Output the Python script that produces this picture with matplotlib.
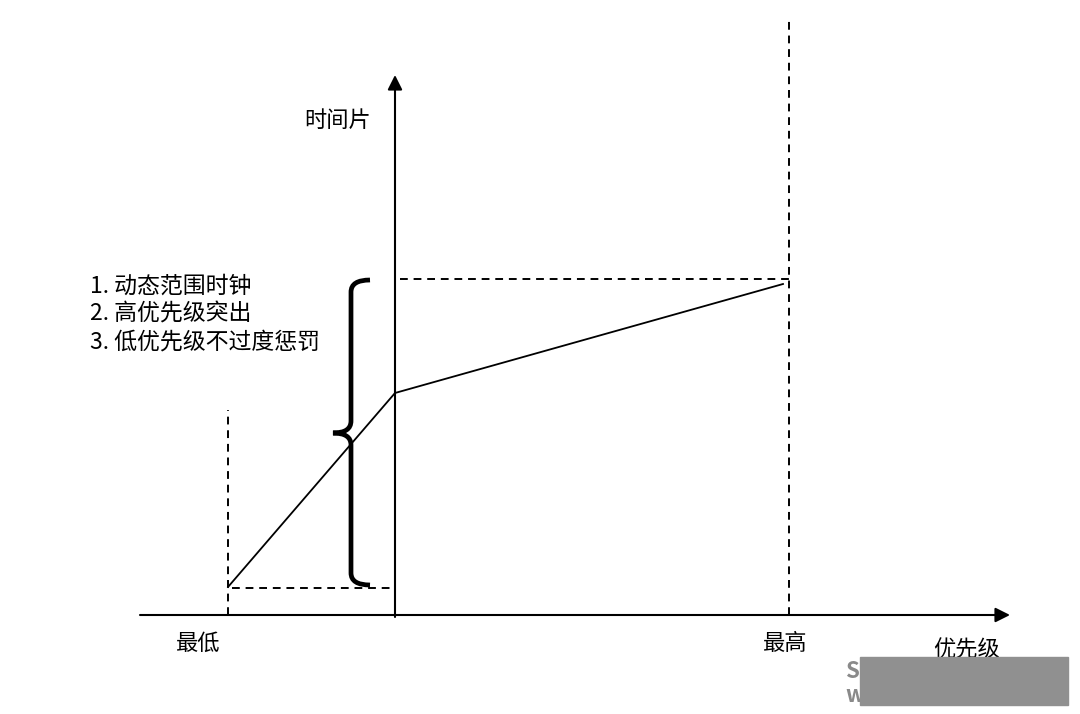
import matplotlib.pyplot as plt
from matplotlib.path import Path
from matplotlib.patches import PathPatch, Rectangle

plt.rcParams['font.family'] = ['Noto Sans CJK SC', 'DejaVu Sans']

# -----------------------------
# Data (origin = where the two axes cross)
# -----------------------------
priority = [-167, 0, 388]        # 最低 -> axis -> 最高
timeslice = [28, 222, 331]

low_x, high_x = -167, 394
low_y, high_y = 27, 336

notes = ["1. 动态范围时钟", "2. 高优先级突出", "3. 低优先级不过度惩罚"]
tick_labels = ["最低", "最高"]
x_label = "优先级"
y_label = "时间片"

# -----------------------------
# Figure: one unit = one pixel
# -----------------------------
fig = plt.figure(figsize=(10.8, 7.14), dpi=100)
ax = fig.add_axes([0, 0, 1, 1])
ax.set_xlim(-395, 685)
ax.set_ylim(-99, 615)
ax.axis('off')

# axes with arrows
ax.annotate("", xy=(615, 0), xytext=(-255, 0),
            arrowprops=dict(arrowstyle="-|>", lw=1.5, color='black',
                            mutation_scale=22, shrinkA=0, shrinkB=0))
ax.annotate("", xy=(0, 540), xytext=(0, -2),
            arrowprops=dict(arrowstyle="-|>", lw=1.5, color='black',
                            mutation_scale=22, shrinkA=0, shrinkB=0))

# main curve
ax.plot(priority, timeslice, color='black', lw=1.3)

# dashed guides
dash = dict(color='black', lw=1.4, linestyle=(0, (4, 3)))
ax.plot([low_x, low_x], [0, 205], **dash)
ax.plot([low_x + 4, -5], [low_y, low_y], **dash)
ax.plot([high_x, high_x], [0, 595], **dash)
ax.plot([5, high_x], [high_y, high_y], **dash)

# curly brace
bx, top, bot, mid = -44, 335, 30, 182
verts = [(-25, top), (-44, top), (bx, top - 12), (bx, top - 12),
         (bx, mid + 12), (bx, mid), (-62, mid), (bx, mid), (bx, mid - 12),
         (bx, bot + 12), (bx, bot + 12), (-44, bot), (-25, bot)]
codes = [Path.MOVETO, Path.CURVE3, Path.CURVE3, Path.LINETO,
         Path.LINETO, Path.CURVE3, Path.CURVE3, Path.CURVE3, Path.CURVE3,
         Path.LINETO, Path.LINETO, Path.CURVE3, Path.CURVE3]
ax.add_patch(PathPatch(Path(verts, codes), fill=False, lw=3.4,
                       edgecolor='black', capstyle='butt'))

# texts
for i, t in enumerate(notes):
    ax.text(-305, 329 - i * 28, t, fontsize=16.5, ha='left', va='center')
ax.text(-57, 495, y_label, fontsize=16, ha='center', va='center')
ax.text(low_x - 30, -28, tick_labels[0], fontsize=16, ha='center', va='center')
ax.text(high_x - 4, -28, tick_labels[1], fontsize=16, ha='center', va='center')
ax.text(572, -35, x_label, fontsize=16, ha='center', va='center')

# watermark box in the corner
ax.text(450, -56, "S", fontsize=16, color='#8a8a8a', fontweight='bold',
        ha='left', va='center', zorder=4)
ax.text(450, -80, "w", fontsize=16, color='#8a8a8a', fontweight='bold',
        ha='left', va='center', zorder=4)
ax.add_patch(Rectangle((465, -90), 208, 48, color='#909090', zorder=5))

fig.savefig("out.png", dpi=100)
